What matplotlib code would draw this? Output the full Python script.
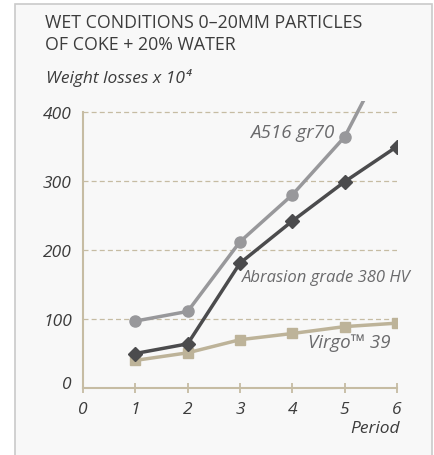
import matplotlib.pyplot as plt
from matplotlib.patches import Rectangle
import matplotlib.transforms as mtransforms

plt.rcParams['font.family'] = ['Open Sans', 'DejaVu Sans']

period = [1, 2, 3, 4, 5, 6]
a516 = [97, 111, 212, 280, 364, 510]
abrasion = [50, 64, 181, 242, 299, 350]
virgo = [40, 51, 70, 79, 89, 94]
yticks = [0, 100, 200, 300, 400]

c_a516 = "#98989b"
c_abr = "#4b4b4d"
c_virgo = "#bdb399"
c_axis = "#c6bca3"
c_text = "#3c3c3c"
c_lab = "#6a6a6c"

fig = plt.figure(figsize=(4.35, 4.56), dpi=100)
fig.patch.set_facecolor("white")

# light panel behind everything
fig.patches.append(Rectangle((15 / 435, -0.05), 417 / 435, 1.05 - 5 / 456,
                             transform=fig.transFigure, facecolor="#f8f8f8",
                             edgecolor="#cacaca", linewidth=1.2, zorder=-5))

ax = fig.add_axes([83 / 435, 1 - 389 / 456, 314 / 435, 287 / 456])
ax.set_facecolor("none")

ax.plot(period, a516, color=c_a516, lw=2.5, marker="o", ms=8, zorder=3)
ax.plot(period, abrasion, color=c_abr, lw=2.5, marker="D", ms=6.8, zorder=4)
ax.plot(period, virgo, color=c_virgo, lw=2.5, marker="s", ms=7.5, zorder=2)

ax.set_xlim(0, 6)
ax.set_ylim(0, 416)
ax.set_xticks(range(0, 7))
ax.set_yticks(yticks)
for v in yticks[1:]:
    ax.axhline(v, color=c_axis, lw=0.9, ls=(0, (4, 2.5)), zorder=1)

for s in ["top", "right"]:
    ax.spines[s].set_visible(False)
ax.spines["left"].set_bounds(0, 400)
ax.spines["left"].set_color(c_axis)
ax.spines["bottom"].set_color(c_axis)
ax.spines["left"].set_linewidth(1.5)
ax.spines["bottom"].set_linewidth(1.5)

ax.tick_params(axis="x", direction="inout", length=7, width=1.3, color=c_axis,
               pad=6, labelsize=12.5, labelcolor=c_text)
ax.tick_params(axis="y", length=0, pad=8, labelsize=12.5, labelcolor=c_text)
for t in ax.get_xticklabels() + ax.get_yticklabels():
    t.set_fontstyle("italic")
ax.get_xticklabels()[0].set_visible(False)
# the zero labels sit a little apart from the corner
off = mtransforms.ScaledTranslation(0, 6 / 100, fig.dpi_scale_trans)
lab0 = ax.get_yticklabels()[0]
lab0.set_transform(lab0.get_transform() + off)
ax.text(0, -30, "0", ha="center", va="center", fontsize=12.5, style="italic",
        color=c_text, clip_on=False)

ax.text(6.05, -58, "Period", ha="right", va="center", fontsize=12.5,
        style="italic", color=c_text, clip_on=False)

ax.text(4.8, 371, "A516 gr70", ha="right", va="center", fontsize=13.5,
        style="italic", color=c_lab)
ax.text(3.03, 161, "Abrasion grade 380 HV", ha="left", va="center",
        fontsize=12, style="italic", color=c_lab)
ax.text(5.87, 67, "Virgo\u2122 39", ha="right", va="center", fontsize=13.5,
        style="italic", color=c_lab)

fig.text(45 / 435, 1 - 28 / 456, "WET CONDITIONS 0\u201320MM PARTICLES",
         ha="left", va="baseline", fontsize=12.8, color=c_text)
fig.text(45 / 435, 1 - 50 / 456, "OF COKE + 20% WATER",
         ha="left", va="baseline", fontsize=12.8, color=c_text)
fig.text(46 / 435, 1 - 83 / 456, "Weight losses x 10\u2074",
         ha="left", va="baseline", fontsize=12.5, style="italic", color=c_text)

fig.savefig("out.png", dpi=100)
